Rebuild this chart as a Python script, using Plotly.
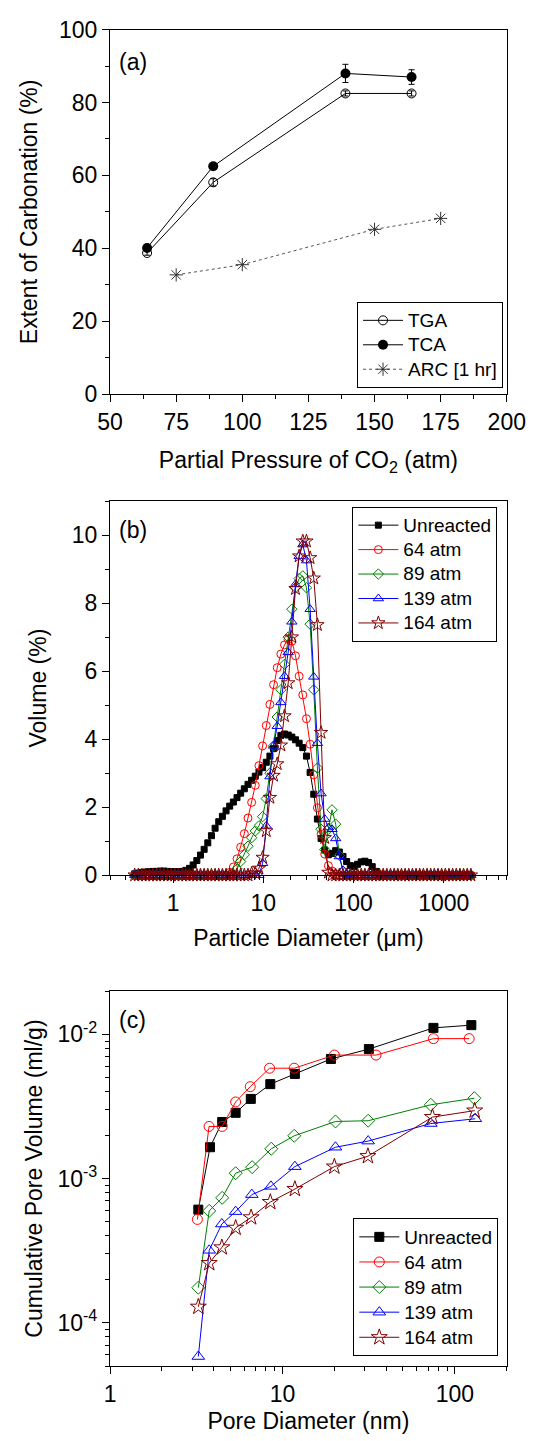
import math
import plotly.graph_objects as go

# ---------------- Panel (a) data ----------------
tga_x = [64, 89, 139, 164]
tga_y = [38.7, 58.1, 82.5, 82.5]
tga_err = [0.6, 1.0, 0.7, 0.7]
tca_x = [64, 89, 139, 164]
tca_y = [40.1, 62.5, 88.0, 87.0]
tca_err = [0.6, 0.6, 2.5, 2.0]
arc_x = [75, 100, 150, 175]
arc_y = [32.7, 35.5, 45.2, 48.2]

# ---------------- Panel (b) data ----------------
size_um = [0.375, 0.4117, 0.4519, 0.4961, 0.5446, 0.5978, 0.6563, 0.7204, 0.7909, 0.8682,
           0.9531, 1.046, 1.149, 1.261, 1.384, 1.520, 1.668, 1.832, 2.011, 2.207,
           2.423, 2.660, 2.920, 3.205, 3.519, 3.863, 4.240, 4.655, 5.110, 5.610,
           6.158, 6.760, 7.421, 8.147, 8.943, 9.818, 10.78, 11.83, 12.99, 14.26,
           15.65, 17.18, 18.86, 20.71, 22.73, 24.95, 27.39, 30.07, 33.01, 36.24,
           39.78, 43.67, 47.94, 52.62, 57.77, 63.41, 69.61, 76.42, 83.89, 92.09,
           101.1, 111.0, 121.8, 133.7, 146.8, 161.2, 176.9, 194.2, 213.2, 234.1,
           256.9, 282.1, 309.6, 339.9, 373.1, 409.6, 449.7, 493.6, 541.9, 594.9,
           653.0, 716.9, 786.9, 863.9, 948.3, 1041, 1143, 1255, 1377, 1512,
           1660, 1822, 2000]

vol_unreacted = [0.04, 0.06, 0.08, 0.09, 0.10, 0.11, 0.11, 0.12, 0.12, 0.11,
                 0.10, 0.10, 0.10, 0.11, 0.14, 0.20, 0.30, 0.43, 0.59, 0.76,
                 0.95, 1.16, 1.38, 1.57, 1.73, 1.89, 2.03, 2.15, 2.28, 2.41,
                 2.54, 2.67, 2.79, 2.91, 3.03, 3.16, 3.32, 3.50, 3.72, 3.96,
                 4.11, 4.15, 4.12, 4.06, 3.98, 3.88, 3.75, 3.50, 3.02, 2.38,
                 1.65, 1.08, 0.74, 0.60, 0.64, 0.72, 0.68, 0.55, 0.40, 0.28,
                 0.25, 0.32, 0.39, 0.41, 0.37, 0.25, 0.11, 0.03, 0, 0,
                 0, 0, 0, 0, 0, 0, 0, 0, 0, 0,
                 0, 0, 0, 0, 0, 0, 0, 0, 0, 0,
                 0, 0, 0]
vol_64 = [0, 0, 0, 0, 0, 0, 0, 0, 0, 0,
          0, 0, 0, 0, 0, 0, 0, 0, 0, 0,
          0, 0, 0, 0, 0, 0, 0.08, 0.24, 0.48, 0.82,
          1.22, 1.68, 2.14, 2.64, 3.22, 3.80, 4.40, 5.02, 5.60, 6.10,
          6.50, 6.77, 6.93, 6.88, 6.45, 5.85, 5.30, 4.60, 3.85, 2.95,
          1.98, 1.20, 0.62, 0.28, 0.12, 0.04, 0, 0, 0, 0,
          0, 0, 0, 0, 0, 0, 0, 0, 0, 0,
          0, 0, 0, 0, 0, 0, 0, 0, 0, 0,
          0, 0, 0, 0, 0, 0, 0, 0, 0, 0,
          0, 0, 0]
vol_89 = [0, 0, 0, 0, 0, 0, 0, 0, 0, 0,
          0, 0, 0, 0, 0, 0, 0, 0, 0, 0,
          0, 0, 0, 0, 0, 0, 0, 0, 0.18, 0.40,
          0.60, 0.85, 1.10, 1.30, 1.45, 1.72, 2.25, 3.00, 3.80, 4.65,
          5.45, 6.20, 7.00, 7.82, 8.45, 8.72, 8.80, 8.45, 7.38, 5.45,
          3.15, 1.35, 0.75, 1.35, 1.92, 1.50, 0.58, 0.12, 0.02, 0,
          0, 0, 0, 0, 0, 0, 0, 0, 0, 0,
          0, 0, 0, 0, 0, 0, 0, 0, 0, 0,
          0, 0, 0, 0, 0, 0, 0, 0, 0, 0,
          0, 0, 0]
vol_139 = [0, 0, 0, 0, 0, 0, 0, 0, 0, 0,
           0, 0, 0, 0, 0, 0, 0, 0, 0, 0,
           0, 0, 0, 0, 0, 0, 0, 0, 0, 0,
           0, 0, 0, 0, 0, 0.35, 1.45, 2.90, 3.80, 4.38,
           5.08, 5.85, 6.55, 7.45, 8.55, 9.38, 9.72, 9.25, 7.82, 5.83,
           3.88, 2.40, 1.65, 1.40, 1.35, 1.08, 0.55, 0.14, 0.02, 0,
           0, 0, 0, 0, 0, 0, 0, 0, 0, 0,
           0, 0, 0, 0, 0, 0, 0, 0, 0, 0,
           0, 0, 0, 0, 0, 0, 0, 0, 0, 0,
           0, 0, 0]
vol_164 = [0, 0, 0, 0, 0, 0, 0, 0, 0, 0,
           0, 0, 0, 0, 0, 0, 0, 0, 0, 0,
           0, 0, 0, 0, 0, 0, 0, 0, 0, 0,
           0, 0, 0.05, 0.06, 0.20, 0.52, 1.30, 2.28, 2.93, 3.27,
           3.82, 4.68, 5.65, 7.00, 8.42, 9.38, 9.82, 9.82, 9.33, 8.73,
           7.36, 4.19, 1.10, 0.08, 0, 0, 0, 0, 0, 0,
           0, 0, 0, 0, 0, 0, 0, 0, 0, 0,
           0, 0, 0, 0, 0, 0, 0, 0, 0, 0,
           0, 0, 0, 0, 0, 0, 0, 0, 0, 0,
           0, 0, 0]

# ---------------- Panel (c) data ----------------
pore_unreacted_x = [3.25, 3.80, 4.47, 5.35, 6.55, 8.50, 11.8, 19.1, 31.7, 75.1, 124.6]
pore_unreacted_y = [6.09e-4, 1.65e-3, 2.47e-3, 2.86e-3, 3.57e-3, 4.52e-3, 5.32e-3, 6.76e-3, 7.91e-3, 1.11e-2, 1.16e-2]
pore_64_x = [3.21, 3.75, 4.47, 5.35, 6.50, 8.42, 11.7, 20.0, 34.9, 75.1, 121.0]
pore_64_y = [5.21e-4, 2.30e-3, 2.30e-3, 3.40e-3, 4.34e-3, 5.83e-3, 5.83e-3, 7.19e-3, 7.19e-3, 9.35e-3, 9.35e-3]
pore_89_x = [3.25, 3.76, 4.47, 5.35, 6.67, 8.61, 11.7, 20.3, 31.4, 72.5, 129.7]
pore_89_y = [1.75e-4, 5.97e-4, 7.35e-4, 1.09e-3, 1.20e-3, 1.61e-3, 1.98e-3, 2.49e-3, 2.52e-3, 3.25e-3, 3.61e-3]
pore_139_x = [3.25, 3.76, 4.45, 5.35, 6.64, 8.57, 11.8, 20.3, 31.4, 72.5, 131.4]
pore_139_y = [5.83e-5, 3.18e-4, 4.84e-4, 5.90e-4, 7.74e-4, 8.83e-4, 1.21e-3, 1.65e-3, 1.82e-3, 2.41e-3, 2.60e-3]
pore_164_x = [3.25, 3.76, 4.45, 5.35, 6.58, 8.50, 11.8, 20.0, 31.3, 74.1, 130.3]
pore_164_y = [1.29e-4, 2.59e-4, 3.33e-4, 4.55e-4, 5.38e-4, 6.87e-4, 8.46e-4, 1.21e-3, 1.43e-3, 2.67e-3, 2.96e-3]

series_names = ["Unreacted", "64 atm", "89 atm", "139 atm", "164 atm"]
series_colors = ["#000000", "#FF0000", "#008000", "#0000FF", "#800000"]
series_symbols = ["square", "circle-open", "diamond-open", "triangle-up-open", "star-open"]

FONT = "Liberation Sans, Arial, sans-serif"
W, H = 555, 1441
LEG_TXT = 19


def lname(s):
    return "<span style='font-size:%dpx'>%s</span>" % (LEG_TXT, s)


fig = go.Figure()

# Panel (a)
fig.add_trace(go.Scatter(x=tga_x, y=tga_y, name=lname("TGA"), mode="lines+markers",
                         line=dict(color="black", width=1),
                         marker=dict(symbol="circle-open", size=9, color="black", line=dict(width=1)),
                         error_y=dict(type="data", array=tga_err, color="black", thickness=1, width=3),
                         xaxis="x", yaxis="y", legend="legend", cliponaxis=False))
fig.add_trace(go.Scatter(x=tca_x, y=tca_y, name=lname("TCA"), mode="lines+markers",
                         line=dict(color="black", width=1),
                         marker=dict(symbol="circle", size=10, color="black"),
                         error_y=dict(type="data", array=tca_err, color="black", thickness=1, width=3),
                         xaxis="x", yaxis="y", legend="legend", cliponaxis=False))
fig.add_trace(go.Scatter(x=arc_x, y=arc_y, name=lname("ARC [1 hr]"), mode="lines+markers",
                         line=dict(color="#555555", width=1, dash="dot"),
                         marker=dict(symbol="asterisk-open", size=11, color="#333333", line=dict(width=1, color="#333333")),
                         xaxis="x", yaxis="y", legend="legend", cliponaxis=False))

# Panel (b)
vols = [vol_unreacted, vol_64, vol_89, vol_139, vol_164]
bsizes = [6, 8, 8, 9, 10]
for name, col, sym, v, ms in zip(series_names, series_colors, series_symbols, vols, bsizes):
    fig.add_trace(go.Scatter(x=size_um, y=v, name=lname(name), mode="lines+markers",
                             line=dict(color=col, width=1),
                             marker=dict(symbol=sym, size=ms, color=col, line=dict(width=1, color=col)),
                             xaxis="x2", yaxis="y2", legend="legend2", cliponaxis=False))

# Panel (c)
pxs = [pore_unreacted_x, pore_64_x, pore_89_x, pore_139_x, pore_164_x]
pys = [pore_unreacted_y, pore_64_y, pore_89_y, pore_139_y, pore_164_y]
csizes = [9, 10, 10, 11, 12]
for name, col, sym, xx, yy, ms in zip(series_names, series_colors, series_symbols, pxs, pys, csizes):
    fig.add_trace(go.Scatter(x=xx, y=yy, name=lname(name), mode="lines+markers",
                             line=dict(color=col, width=1),
                             marker=dict(symbol=sym, size=ms, color=col, line=dict(width=1, color=col)),
                             xaxis="x3", yaxis="y3", legend="legend3", cliponaxis=False))

XLP, XRP = 103, 524
XL, XR = XLP / W, XRP / W


def ydom(top_px, bot_px):
    return [(H - bot_px) / H, (H - top_px) / H]


axis_common = dict(showline=True, linewidth=1.3, linecolor="black", mirror=True,
                   ticks="outside", ticklen=7, tickwidth=1, tickcolor="black",
                   showgrid=False, zeroline=False,
                   tickfont=dict(family=FONT, size=23, color="black"))
title_font = dict(family=FONT, size=23, color="black")
minor_common = dict(ticks="outside", ticklen=4, tickwidth=1, tickcolor="black", showgrid=False)

fig.update_layout(
    width=W, height=H, margin=dict(l=0, r=0, t=0, b=0),
    paper_bgcolor="white", plot_bgcolor="white",
    font=dict(family=FONT, color="black"),
    xaxis=dict(domain=[XL, XR], anchor="y", range=[50, 200], tickmode="array",
               tickvals=[50, 75, 100, 125, 150, 175, 200],
               minor=dict(dtick=12.5, tick0=50, **minor_common),
               title=dict(text="Partial Pressure of CO<sub>2</sub> (atm)", font=title_font, standoff=18),
               **axis_common),
    yaxis=dict(domain=ydom(17, 388), anchor="x", range=[0, 100], tickmode="array",
               tickvals=[0, 20, 40, 60, 80, 100],
               minor=dict(dtick=10, tick0=0, **minor_common),
               title=dict(text="Extent of Carbonation (%)", font=title_font, standoff=14),
               **axis_common),
    xaxis2=dict(domain=[XL, XR], anchor="y2", type="log",
                range=[math.log10(0.2), math.log10(5000)],
                tickmode="array", tickvals=[1, 10, 100, 1000], ticktext=["1", "10", "100", "1000"],
                minor=dict(dtick="D1", **minor_common),
                title=dict(text="Particle Diameter (\u03bcm)", font=title_font, standoff=14),
                **axis_common),
    yaxis2=dict(domain=ydom(497, 878), anchor="x2", range=[0, 11], tickmode="array",
                tickvals=[0, 2, 4, 6, 8, 10],
                minor=dict(dtick=1, tick0=0, **minor_common),
                title=dict(text="Volume (%)", font=title_font, standoff=18),
                **axis_common),
    xaxis3=dict(domain=[XL, XR], anchor="y3", type="log",
                range=[0, math.log10(200)],
                tickmode="array", tickvals=[1, 10, 100], ticktext=["1", "10", "100"],
                minor=dict(dtick="D1", **minor_common),
                title=dict(text="Pore Diameter (nm)", font=title_font, standoff=7),
                **axis_common),
    yaxis3=dict(domain=ydom(996, 1378), anchor="x3", type="log",
                range=[math.log10(5e-5), math.log10(2e-2)],
                tickmode="array", tickvals=[1e-4, 1e-3, 1e-2],
                ticktext=["10<sup>-4</sup>", "10<sup>-3</sup>", "10<sup>-2</sup>"],
                minor=dict(dtick="D1", **minor_common),
                title=dict(text="Cumulative Pore Volume (ml/g)", font=title_font, standoff=8),
                **axis_common),
    legend=dict(x=(XRP - 4) / W, xanchor="right", y=(H - 382) / H, yanchor="bottom",
                bgcolor="white", bordercolor="black", borderwidth=1,
                font=dict(family=FONT, size=16.5, color="black"), itemwidth=40,
                tracegroupgap=0),
    legend2=dict(x=(XRP - 10) / W, xanchor="right", y=(H - 503) / H, yanchor="top",
                 bgcolor="white", bordercolor="black", borderwidth=1,
                 font=dict(family=FONT, size=16.5, color="black"), itemwidth=40,
                 tracegroupgap=0),
    legend3=dict(x=(XRP - 9) / W, xanchor="right", y=(H - 1368) / H, yanchor="bottom",
                 bgcolor="white", bordercolor="black", borderwidth=1,
                 font=dict(family=FONT, size=17, color="black"), itemwidth=40,
                 tracegroupgap=0),
    showlegend=True,
)

panel_labels = [("(a)", 50), ("(b)", 526), ("(c)", 1025)]
for txt, ypx in panel_labels:
    fig.add_annotation(text=txt, xref="paper", yref="paper", x=(XLP + 24) / W, y=(H - ypx) / H,
                       xanchor="center", yanchor="middle", showarrow=False,
                       font=dict(family=FONT, size=23, color="black"))

fig.write_html("out.html", config={"displayModeBar": False},
               post_script="document.body.style.margin='0';")
